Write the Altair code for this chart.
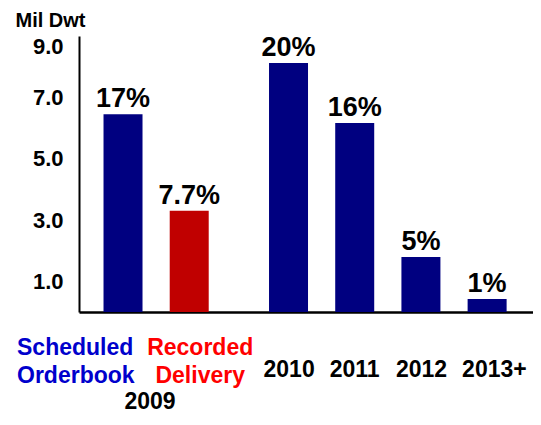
import altair as alt
import pandas as pd

# ---- data ----
categories = ["Scheduled Orderbook", "Recorded Delivery", "2010", "2011", "2012", "2013+"]
values = [6.45, 3.3, 8.12, 6.16, 1.79, 0.42]
pct_labels = ["17%", "7.7%", "20%", "16%", "5%", "1%"]
axis_texts = ["Scheduled\nOrderbook", "Recorded\nDelivery", "2010", "2011", "2012", "2013+"]
group_labels = ["2009", "2009", "", "", "", ""]
y_ticks = [1, 3, 5, 7, 9]
# category slots (blank entries are spacer slots between bars)
x_domain = ["Scheduled Orderbook", " ", "Recorded Delivery", "  ", "   ", "2010",
            "    ", "2011", "     ", "2012", "      ", "2013+"]

df = pd.DataFrame({
    "category": categories,
    "value": values,
    "pct": pct_labels,
    "axis_text": axis_texts,
    "group": group_labels,
})

FONT = "Liberation Sans"

x_scale = alt.Scale(domain=x_domain, paddingInner=0, paddingOuter=0.858, align=0.4836)
x_enc = alt.X("category:N", scale=x_scale, sort=x_domain,
              axis=alt.Axis(labels=False, ticks=False, title=None,
                            domainColor="black", domainWidth=2.5, grid=False))
y_enc = alt.Y("value:Q", scale=alt.Scale(domain=[0, 9], nice=False),
              axis=alt.Axis(values=y_ticks, format=".1f", ticks=False, tickSize=0,
                            labelPadding=16, labelFlush=True, labelFont=FONT,
                            labelFontSize=22, labelFontWeight="bold", labelColor="black",
                            domainColor="black", domainWidth=2, grid=False,
                            title="Mil Dwt", titleAngle=0, titleAlign="left",
                            titleBaseline="alphabetic", titleX=-64, titleY=-10,
                            titleFont=FONT, titleFontSize=20, titleFontWeight="bold",
                            titleColor="black"))

base = alt.Chart(df)

bars = base.mark_bar(size=39).encode(
    x=x_enc,
    y=y_enc,
    color=alt.condition(alt.datum.category == "Recorded Delivery",
                        alt.value("#C00000"), alt.value("#000080")),
)

pct = base.mark_text(font=FONT, fontSize=27, fontWeight="bold", color="black",
                     baseline="alphabetic", dy=-7).encode(
    x=x_enc, y=alt.Y("value:Q"), text="pct:N")

lab_so = base.transform_filter(alt.datum.category == "Scheduled Orderbook").mark_text(
    font=FONT, fontSize=23, fontWeight="bold", color="#0000CC", align="left",
    baseline="alphabetic", dx=-106, lineBreak="\n", lineHeight=28).encode(
    x=x_enc, y=alt.value(319), text="axis_text:N")

lab_rd = base.transform_filter(alt.datum.category == "Recorded Delivery").mark_text(
    font=FONT, fontSize=23, fontWeight="bold", color="#FF0000", align="center",
    baseline="alphabetic", dx=11, lineBreak="\n", lineHeight=28).encode(
    x=x_enc, y=alt.value(319), text="axis_text:N")

lab_years = base.transform_filter(
    alt.FieldOneOfPredicate(field="category", oneOf=categories[2:])).mark_text(
    font=FONT, fontSize=23, fontWeight="bold", color="black", align="left",
    baseline="alphabetic", dx=-25).encode(
    x=x_enc, y=alt.value(341), text="axis_text:N")

lab_group = base.transform_filter(alt.datum.category == "Scheduled Orderbook").mark_text(
    font=FONT, fontSize=23, fontWeight="bold", color="black", align="center",
    baseline="alphabetic", dx=27).encode(
    x=x_enc, y=alt.value(373), text="group:N")

chart = alt.layer(bars, pct, lab_so, lab_rd, lab_years, lab_group).properties(
    width=454, height=276,
    padding={"left": 71, "top": 28, "right": 0, "bottom": 104},
    autosize=alt.AutoSizeParams(type="none"),
    background="white",
).configure_view(stroke=None)

chart.save("out.html", embed_options={"renderer": "svg", "actions": False})
